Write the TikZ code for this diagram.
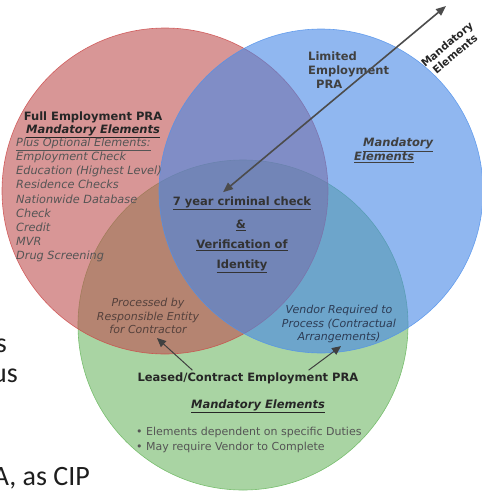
\documentclass[tikz,border=0pt]{standalone}
\usepackage{fontspec}
\setmainfont{DejaVu Sans}
\newfontfamily\slidefont{Carlito}
\usetikzlibrary{arrows.meta}

\definecolor{redfill}{RGB}{190,80,80}
\definecolor{redline}{RGB}{205,70,70}
\definecolor{bluefill}{RGB}{70,135,230}
\definecolor{blueline}{RGB}{80,145,235}
\definecolor{greenfill}{RGB}{169,212,163}
\definecolor{greenline}{RGB}{120,190,110}
\definecolor{listgray}{RGB}{85,85,85}
\definecolor{notebrown}{RGB}{85,65,60}
\definecolor{noteblue}{RGB}{45,60,85}
\definecolor{slidetext}{RGB}{30,30,30}

\tikzset{
  heading/.style={font=\bfseries\fontsize{11.5}{14}\selectfont, inner sep=0pt, text=black!85},
  mandhead/.style={font=\bfseries\itshape\fontsize{11.5}{14}\selectfont, inner sep=0pt, text=black!85},
  itlist/.style={font=\itshape\fontsize{11.3}{14.2}\selectfont, inner sep=0pt, text=listgray, align=left},
  note/.style={font=\itshape\fontsize{11}{13.6}\selectfont, inner sep=0pt, align=center},
  core/.style={font=\bfseries\fontsize{11.5}{14}\selectfont, inner sep=0pt, text=black!80},
  slidefrag/.style={font=\slidefont\fontsize{28}{30}\selectfont, inner sep=0pt, text=slidetext},
  pointer/.style={-{Triangle[length=9pt,width=8pt]}, line width=1pt, draw=black!75},
}

\begin{document}
\begin{tikzpicture}[x=1pt, y=-1pt]
  \useasboundingbox (0,0) rectangle (482,493);

  % bouts de texte de la diapo
  \node[slidefrag, anchor=base east] (frag1) at (7,352) {s};
  \node[slidefrag, anchor=base east] (frag2) at (18,382) {us};
  \node[slidefrag, anchor=base east] (frag3) at (90,485) {A, as CIP};

  % cercle vert (contrat)
  \fill[greenfill] (243,325) circle[radius=165pt];
  \draw[greenline, line width=0.6pt] (243,325) circle[radius=165pt];

  % cercle rouge (full)
  \fill[redfill, opacity=.6] (165,191) circle[radius=163pt];
  \draw[redline, line width=0.6pt, opacity=.8] (165,191) circle[radius=163pt];

  % cercle bleu (limited)
  \fill[bluefill, opacity=.6] (321,191) circle[radius=162pt];
  \draw[blueline, line width=0.6pt, opacity=.8] (321,191) circle[radius=162pt];

  % texte cercle rouge
  \node[heading] (full) at (93,117) {Full Employment PRA};
  \node[mandhead] (fullmand) at (93,131) {\underline{Mandatory Elements}};
  \node[itlist, anchor=north west] (fulllist) at (16,137.5) {\underline{Plus Optional Elements:}\\
    Employment Check\\
    Education (Highest Level)\\
    Residence Checks\\
    Nationwide Database\\
    Check\\
    Credit\\
    MVR\\
    Drug Screening};

  % texte cercle bleu
  \node[heading, align=left, anchor=north west, text=black!75] (limited) at (308,52) {Limited\\Employment\\\hspace*{8pt}PRA};
  \node[mandhead, align=left, anchor=north west, text=black!75] (limmand) at (354,138) {\hspace*{9pt}\underline{Mandatory}\\\underline{Elements}};

  % texte du centre
  \node[core] (crim) at (242,203) {\underline{7 year criminal check}};
  \node[core] (amp) at (241,225) {\underline{\&}};
  \node[core] (verif) at (242,245) {\underline{Verification of}};
  \node[core] (ident) at (242,266) {\underline{Identity}};

  % intersections avec le vert
  \node[note, text=notebrown] (proc) at (148,316) {Processed by\\Responsible Entity\\for Contractor};
  \node[note, text=noteblue] (vendor) at (339,324) {Vendor Required to\\Process (Contractual\\Arrangements)};

  % texte cercle vert
  \node[heading] (leased) at (248,378) {Leased/Contract Employment PRA};
  \node[mandhead] (leasmand) at (258,406) {\underline{Mandatory Elements}};
  \node[font=\fontsize{11}{15}\selectfont, inner sep=0pt, text=listgray, align=left, anchor=north west] (duties) at (136,427)
    {\textbullet\ Elements dependent on specific Duties\\\textbullet\ May require Vendor to Complete};

  % fleche double mandatory
  \coordinate (top) at (446,6);
  \draw[{Triangle[length=10pt,width=8pt]}-{Triangle[length=10pt,width=8pt]}, line width=1.6pt, draw=black!70]
    ([shift={(-19pt,4pt)}]crim.north) -- (top);
  \node[font=\bfseries\fontsize{10.5}{12.5}\selectfont, inner sep=0pt, rotate=40, align=center, text=black!85] (toplbl) at (451,49) {Mandatory\\Elements};

  % fleches vers les intersections
  \draw[pointer] ([xshift=55pt, yshift=2pt]leased.north west) -- ([xshift=9pt, yshift=-4pt]proc.south);
  \draw[pointer] ([xshift=-50pt, yshift=2pt]leased.north east) -- ([xshift=2pt, yshift=-3pt]vendor.south);
\end{tikzpicture}
\end{document}
